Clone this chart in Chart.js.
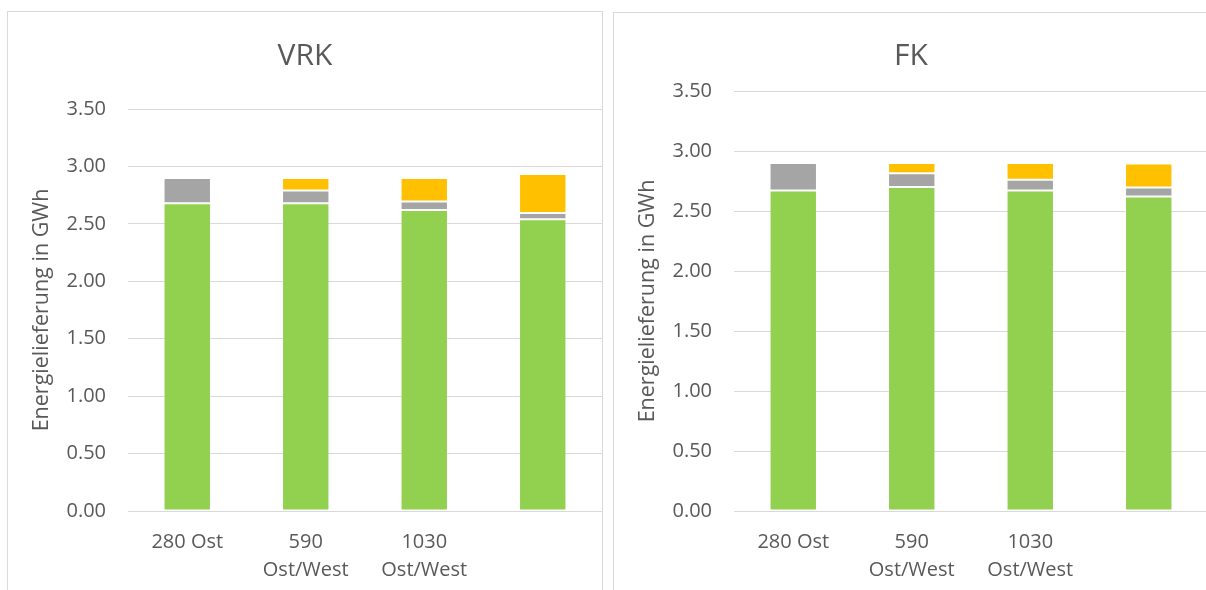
<!DOCTYPE html>
<html>
<head>
<meta charset="utf-8">
<script src="https://cdn.jsdelivr.net/npm/chart.js@4"></script>
<style>
  html, body { margin: 0; padding: 0; background: #fff; overflow: hidden; width: 1206px; height: 590px; }
  .panel { position: absolute; box-sizing: border-box; border: 1px solid #d9d9d9; background: #fff; }
  #p1 { left: 7px; top: 11px; width: 596px; height: 600px; }
  #p2 { left: 613px; top: 12px; width: 610px; height: 600px; }
  canvas { position: absolute; left: 0; top: 0; }
</style>
</head>
<body>
<div class="panel" id="p1"><canvas id="vrk" width="594" height="578"></canvas></div>
<div class="panel" id="p2"><canvas id="fk" width="594" height="577"></canvas></div>
<script>
// categories and values (GWh)
const categories = ['280 Ost', ['590', 'Ost/West'], ['1030', 'Ost/West'], ''];
const yTicks = [0, 0.5, 1, 1.5, 2, 2.5, 3, 3.5];

const vrkGreen = [2.68, 2.68, 2.62, 2.54];
const vrkGray = [0.22, 0.11, 0.075, 0.055];
const vrkYellow = [0, 0.11, 0.205, 0.34];

const fkGreen = [2.67, 2.70, 2.67, 2.62];
const fkGray = [0.23, 0.115, 0.09, 0.075];
const fkYellow = [0, 0.085, 0.14, 0.20];

const textColor = '#595959';
const gridColor = '#d9d9d9';
const font = 'Open Sans';

function makeChart(id, title, green, gray, yellow, titlePad) {
    const ctx = document.getElementById(id).getContext('2d');
    const seg = (data, color) => ({
        data: data,
        backgroundColor: color,
        borderColor: 'rgba(255,255,255,0.2)',
        borderWidth: 1,
        borderSkipped: false,
        barPercentage: 0.4,
        categoryPercentage: 1
    });
    return new Chart(ctx, {
        type: 'bar',
        data: {
            labels: categories,
            datasets: [
                seg(green, '#92d050'),
                seg(gray, '#a5a5a5'),
                seg(yellow, '#ffc000')
            ]
        },
        options: {
            responsive: false,
            animation: false,
            layout: { padding: 0 },
            plugins: {
                legend: { display: false },
                tooltip: { enabled: false },
                title: {
                    display: true,
                    text: title,
                    color: textColor,
                    font: { family: font, size: 30, weight: 'normal', lineHeight: 1.2 },
                    padding: titlePad
                }
            },
            scales: {
                x: {
                    stacked: true,
                    grid: { display: false },
                    border: { display: false },
                    ticks: {
                        color: textColor,
                        padding: 9,
                        maxRotation: 0,
                        autoSkip: false,
                        font: { family: font, size: 20, lineHeight: 1.42 }
                    },
                    afterFit: s => { s.height = 79; }
                },
                y: {
                    stacked: true,
                    min: yTicks[0],
                    max: yTicks[yTicks.length - 1],
                    afterBuildTicks: s => { s.ticks = yTicks.map(v => ({ value: v })); },
                    grid: { color: gridColor, lineWidth: 1, drawTicks: false },
                    border: { display: false },
                    ticks: {
                        color: textColor,
                        padding: 22,
                        font: { family: font, size: 20 },
                        callback: v => v.toFixed(2)
                    },
                    title: {
                        display: true,
                        text: 'Energielieferung in GWh',
                        color: textColor,
                        font: { family: font, size: 21.5, lineHeight: 1.2 },
                        padding: { top: 21, bottom: 0 }
                    },
                    afterFit: s => { s.width = 120; }
                }
            }
        }
    });
}

makeChart('vrk', 'VRK', vrkGreen, vrkGray, vrkYellow, { top: 26, bottom: 35 });
makeChart('fk', 'FK', fkGreen, fkGray, fkYellow, { top: 25, bottom: 17 });
</script>
</body>
</html>
